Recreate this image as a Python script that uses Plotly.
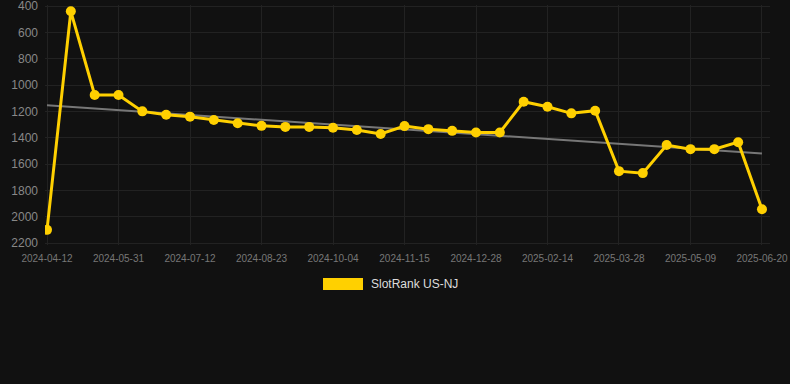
import numpy as np
import plotly.graph_objects as go

dates = ["2024-04-12", "2024-04-28", "2024-05-14", "2024-05-31", "2024-06-14", "2024-06-28",
         "2024-07-12", "2024-07-26", "2024-08-09", "2024-08-23", "2024-09-06", "2024-09-20",
         "2024-10-04", "2024-10-18", "2024-11-01", "2024-11-15", "2024-11-29", "2024-12-13",
         "2024-12-28", "2025-01-11", "2025-01-28", "2025-02-14", "2025-02-28", "2025-03-14",
         "2025-03-28", "2025-04-11", "2025-04-25", "2025-05-09", "2025-05-23", "2025-06-06",
         "2025-06-20"]
ranks = [2100, 440, 1075, 1075, 1200, 1225, 1240, 1265, 1290, 1310, 1318, 1318,
         1325, 1342, 1372, 1312, 1335, 1348, 1360, 1360, 1127, 1165, 1215, 1195,
         1654, 1669, 1456, 1487, 1487, 1434, 1943]
tick_dates = dates[::3]
y_ticks = [400, 600, 800, 1000, 1200, 1400, 1600, 1800, 2000, 2200]
series_name = "SlotRank US-NJ"

idx = np.arange(len(ranks))
slope, intercept = np.polyfit(idx, ranks, 1)
trend = [intercept, intercept + slope * idx[-1]]

fig = go.Figure()
fig.add_trace(go.Scatter(x=[dates[0], dates[-1]], y=trend, mode="lines",
                         line=dict(color="#777777", width=2), showlegend=False,
                         hoverinfo="skip"))
fig.add_trace(go.Scatter(x=dates, y=ranks, mode="lines+markers", name=series_name,
                         line=dict(color="#FFD000", width=3),
                         marker=dict(color="#FFD000", size=10), showlegend=False))

H = 384
top, bottom = 5, 245
def py(p):
    return (bottom - p) / (bottom - top)

fig.add_shape(type="rect", xref="paper", yref="paper",
              x0=(323 - 45) / 725, x1=(363 - 45) / 725, y0=py(290), y1=py(278),
              fillcolor="#FFD000", line=dict(width=0))
fig.add_annotation(xref="paper", yref="paper", x=(369 - 45) / 725, y=py(284),
                   text=series_name, showarrow=False, xanchor="left", yanchor="middle",
                   font=dict(color="#dddddd", size=12))

fig.update_layout(
    width=790, height=H,
    paper_bgcolor="#111111", plot_bgcolor="#111111",
    margin=dict(l=45, r=20, t=top, b=H - bottom, autoexpand=False),
    font=dict(family="Arial, Liberation Sans, sans-serif"),
    xaxis=dict(type="category", categoryorder="array", categoryarray=dates,
               range=[-0.084, 30.336], tickmode="array", tickvals=tick_dates,
               ticktext=tick_dates, showgrid=True, gridcolor="#222222",
               tickfont=dict(size=10, color="#777777"), zeroline=False,
               showline=False, ticks="", ticklabelstandoff=6,
               ticklabeloverflow="allow", automargin=False),
    yaxis=dict(autorange=False, range=[2215, 392], tickmode="array", tickvals=y_ticks,
               showgrid=True, gridcolor="#222222", tickfont=dict(size=12, color="#888888"),
               zeroline=False, ticks="", ticklabelstandoff=6,
               ticklabeloverflow="allow", automargin=False),
)
fig.write_html("out.html", config={"displayModeBar": False},
               post_script="document.body.style.margin='0';document.body.style.background='#111111';")
